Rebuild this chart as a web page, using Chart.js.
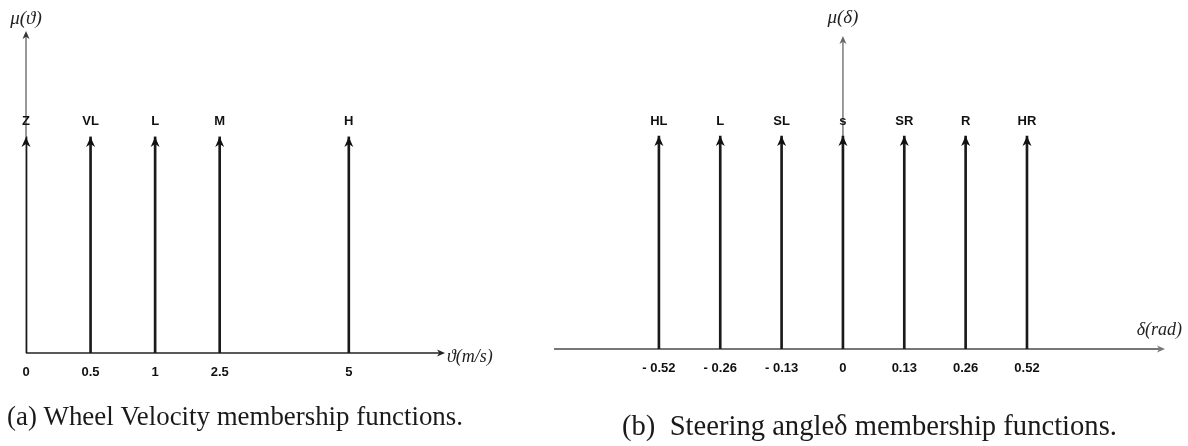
<!DOCTYPE html>
<html>
<head>
<meta charset="utf-8">
<script src="https://cdn.jsdelivr.net/npm/chart.js@4/dist/chart.umd.min.js"></script>
<style>
  html, body { margin: 0; padding: 0; background: #fff; }
  body { width: 1188px; height: 446px; position: relative; overflow: hidden; }
  canvas { position: absolute; top: 0; }
  #vel { left: 0; }
  #ang { left: 540px; }
</style>
</head>
<body>
<canvas id="vel" width="540" height="446"></canvas>
<canvas id="ang" width="648" height="446"></canvas>
<script>
// (a) wheel velocity
const velLabels = ['Z', 'VL', 'L', 'M', 'H'];
const velTicks = ['0', '0.5', '1', '2.5', '5'];
const velSlots = [0, 1, 2, 3, 5];
const velMu = [1, 1, 1, 1, 1];

// (b) steering angle
const angLabels = ['HL', 'L', 'SL', 's', 'SR', 'R', 'HR'];
const angTicks = ['- 0.52', '- 0.26', '- 0.13', '0', '0.13', '0.26', '0.52'];
const angSlots = [0, 1, 2, 3, 4, 5, 6];
const angMu = [1, 1, 1, 1, 1, 1, 1];

const SERIF = '"Liberation Serif", "DejaVu Serif", serif';
const SANS = '"Liberation Sans", Arial, sans-serif';

function arrowHead(ctx, x, y, dir, len, half, color) {
  ctx.save();
  ctx.translate(x, y);
  if (dir === 'right') ctx.rotate(Math.PI / 2);
  ctx.beginPath();
  ctx.moveTo(0, 0);
  ctx.lineTo(-half, len);
  ctx.lineTo(0, len * 0.72);
  ctx.lineTo(half, len);
  ctx.closePath();
  ctx.fillStyle = color;
  ctx.fill();
  ctx.restore();
}

function fitFont(ctx, text, width, style, family) {
  ctx.font = `${style} 100px ${family}`;
  const w = ctx.measureText(text).width;
  return `${style} ${(100 * width / w).toFixed(2)}px ${family}`;
}

function criarPainel(id, o) {
  return new Chart(document.getElementById(id), {
    type: 'bar',
    data: {
      datasets: [{
        data: o.slots.map((s, i) => ({ x: s, y: o.mu[i] })),
        backgroundColor: '#1a1a1a',
        barThickness: 2,
        borderWidth: 0
      }]
    },
    options: {
      responsive: false,
      animation: false,
      layout: { padding: o.padding },
      plugins: { legend: { display: false }, tooltip: { enabled: false } },
      scales: {
        x: {
          type: 'linear',
          min: o.xmin, max: o.xmax,
          offset: false,
          grid: { display: false, drawTicks: false },
          border: { display: false },
          afterBuildTicks: s => { s.ticks = o.slots.map(v => ({ value: v })); },
          afterFit: s => { s.height = 40; },
          ticks: {
            autoSkip: false, maxRotation: 0, padding: 12,
            color: '#111',
            font: { family: SANS, size: 13, weight: 'bold' },
            callback: v => o.ticks[o.slots.indexOf(v)] ?? ''
          }
        },
        y: { display: false, min: 0, max: o.ymax }
      }
    },
    plugins: [{
      id: 'eixosSetas',
      beforeDatasetsDraw(chart) {
        const { ctx, chartArea: { top, bottom, left, right }, scales: { x } } = chart;
        const ax = x.getPixelForValue(o.yAxisAt);
        ctx.save();
        // y axis
        ctx.strokeStyle = o.yColor;
        ctx.lineWidth = o.yWidth;
        ctx.beginPath();
        ctx.moveTo(ax, bottom);
        ctx.lineTo(ax, top + 6);
        ctx.stroke();
        arrowHead(ctx, ax, top, 'up', 8, 3.5, o.yColor);
        // x axis
        ctx.strokeStyle = o.xColor;
        ctx.lineWidth = o.xWidth;
        ctx.beginPath();
        ctx.moveTo(left, bottom);
        ctx.lineTo(right - 6, bottom);
        ctx.stroke();
        arrowHead(ctx, right, bottom, 'right', 8, 3.5, o.xColor);
        ctx.restore();
      },
      afterDatasetsDraw(chart) {
        const { ctx, chartArea: { top, bottom, right }, scales: { x } } = chart;
        const meta = chart.getDatasetMeta(0);
        ctx.save();
        ctx.textAlign = 'center';
        ctx.textBaseline = 'middle';
        ctx.fillStyle = '#111';
        ctx.font = `bold 13px ${SANS}`;
        meta.data.forEach((bar, i) => {
          arrowHead(ctx, bar.x, bar.y, 'up', 10, 4.5, '#111');
          ctx.fillText(o.labels[i], bar.x, bar.y - 15);
        });
        // axis names
        ctx.fillStyle = '#222';
        ctx.font = `italic 19px ${SERIF}`;
        ctx.fillText(o.yName, x.getPixelForValue(o.yAxisAt), top - o.yNameGap);
        ctx.textAlign = o.xNameAlign;
        ctx.font = `italic 18px ${SERIF}`;
        ctx.fillText(o.xName, o.xNameAlign === 'left' ? right + 2 : chart.width - 6, bottom + o.xNameDy);
        // caption
        ctx.fillStyle = '#1a1a1a';
        ctx.textAlign = 'left';
        ctx.font = fitFont(ctx, o.caption, o.captionW, 'normal', SERIF);
        ctx.fillText(o.caption, o.captionX, o.captionY);
        ctx.restore();
      }
    }]
  });
}

criarPainel('vel', {
  labels: velLabels, ticks: velTicks, slots: velSlots, mu: velMu,
  xmin: 0, xmax: 6.49, ymax: 1.49, yAxisAt: 0,
  padding: { left: 26, right: 95, top: 31, bottom: 53 },
  yColor: '#333', yWidth: 1, xColor: '#222', xWidth: 1.5,
  yName: 'μ(ϑ)', yNameGap: 12,
  xName: 'ϑ(m/s)', xNameAlign: 'left', xNameDy: 4,
  caption: '(a) Wheel Velocity membership functions.',
  captionW: 456, captionX: 7, captionY: 418
});

criarPainel('ang', {
  labels: angLabels, ticks: angTicks, slots: angSlots, mu: angMu,
  xmin: -1.71, xmax: 8.25, ymax: 1.47, yAxisAt: 3,
  padding: { left: 14, right: 23, top: 36, bottom: 57 },
  yColor: '#666', yWidth: 1.3, xColor: '#777', xWidth: 2,
  yName: 'μ(δ)', yNameGap: 18,
  xName: 'δ(rad)', xNameAlign: 'right', xNameDy: -19,
  caption: '(b)  Steering angleδ membership functions.',
  captionW: 495, captionX: 82, captionY: 427
});
</script>
</body>
</html>
